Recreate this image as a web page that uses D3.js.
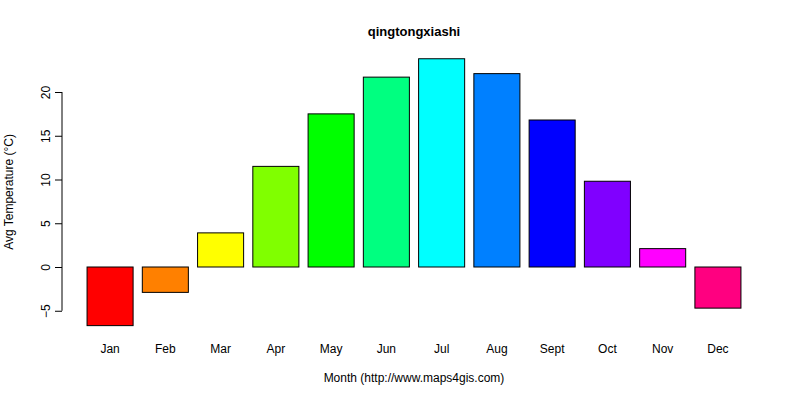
<!DOCTYPE html>
<html><head><meta charset="utf-8">
<script src="https://cdn.jsdelivr.net/npm/d3@7"></script>
<style>body{margin:0;background:#fff}</style>
</head><body><div id="chart"></div>
<script>
var months = ["Jan","Feb","Mar","Apr","May","Jun","Jul","Aug","Sept","Oct","Nov","Dec"];
var temps = [-6.7,-2.9,3.9,11.5,17.5,21.7,23.8,22.1,16.8,9.8,2.1,-4.7];
var colors = ["#FF0000","#FF8000","#FFFF00","#80FF00","#00FF00","#00FF80","#00FFFF","#0080FF","#0000FF","#8000FF","#FF00FF","#FF0080"];
var yTicks = [-5,0,5,10,15,20];

var svg = d3.select("#chart").append("svg").attr("width",800).attr("height",400)
  .style("font-family","Liberation Sans, Arial, sans-serif");

var x = d3.scaleBand().domain(months).range([76, 752]).paddingInner(0.1667).paddingOuter(0.2);
var y = d3.scaleLinear().domain([0,20]).range([267,92]);

svg.append("g").selectAll("rect").data(temps).enter().append("rect")
  .attr("x",(d,i)=>x(months[i]))
  .attr("y",d=>y(Math.max(0,d)))
  .attr("width",x.bandwidth())
  .attr("height",d=>Math.abs(y(d)-y(0)))
  .attr("fill",(d,i)=>colors[i])
  .attr("stroke","#000").attr("stroke-width",1);

var ax = svg.append("g").attr("transform","translate(62,0)")
  .call(d3.axisLeft(y).tickValues(yTicks).tickSize(7).tickSizeOuter(0));
ax.select(".domain").attr("d","M0,"+y(-5)+"V"+y(20));
ax.selectAll("text").attr("transform",d=>"rotate(-90,-16,"+y(d)+")")
  .attr("x",-16).attr("dy","0.35em").attr("text-anchor","middle")
  .attr("font-size",12).attr("font-family","Liberation Sans, Arial, sans-serif");
// rotated labels
ax.selectAll(".tick text").attr("x",-16).attr("y",y=>0).attr("dy",0);
ax.selectAll(".tick").each(function(d){
  d3.select(this).select("text").attr("transform","rotate(-90) translate(0,-12)").attr("x",0).attr("y",0);
});

svg.append("g").selectAll("text").data(months).enter().append("text")
  .attr("x",d=>x(d)+x.bandwidth()/2).attr("y",353)
  .attr("text-anchor","middle").attr("font-size",12).text(d=>d);

svg.append("text").attr("x",414).attr("y",36).attr("text-anchor","middle")
  .attr("font-weight","bold").attr("font-size",13).text("qingtongxiashi");
svg.append("text").attr("x",414).attr("y",382).attr("text-anchor","middle")
  .attr("font-size",12).text("Month (http://www.maps4gis.com)");
svg.append("text").attr("transform","translate(13,192) rotate(-90)").attr("text-anchor","middle")
  .attr("font-size",12).text("Avg Temperature (°C)");
</script></body></html>
